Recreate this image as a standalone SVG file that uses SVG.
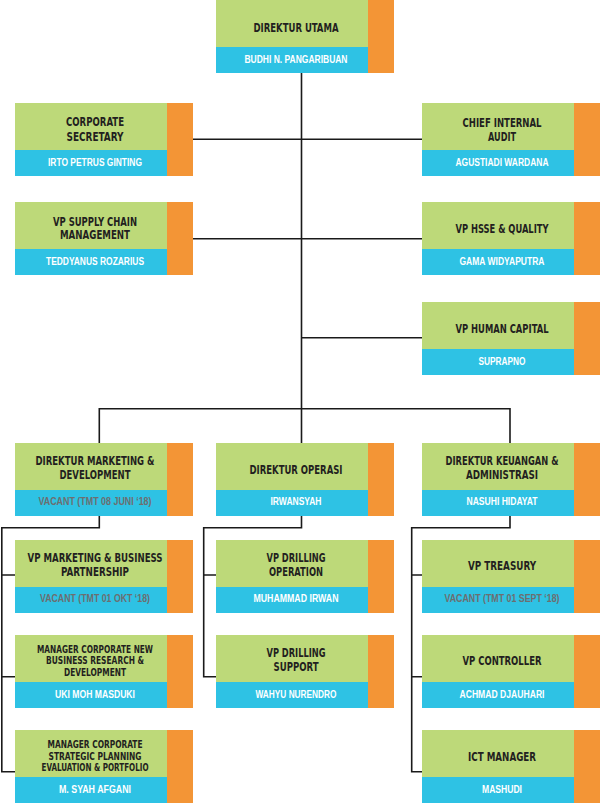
<svg xmlns="http://www.w3.org/2000/svg" width="600" height="804" viewBox="0 0 600 804">
<style>
.g{fill:#bdd979}
.b{fill:#2ec2e4}
.o{fill:#f39536}
.t{font-family:"Liberation Sans Narrow","DejaVu Sans Condensed","Liberation Sans",sans-serif;font-weight:bold;font-size:13px;fill:#231f20;text-anchor:middle}
.m{font-size:12px}
.s{font-size:10.5px}
.n{font-family:"Liberation Sans","DejaVu Sans",sans-serif;font-weight:bold;font-size:10px;fill:#ffffff;text-anchor:middle}
.v{fill:#6d6e70}
.c{fill:none;stroke:#1a1a1a;stroke-width:1.6}
</style>
<defs>
<g id="box">
<rect class="g" x="0" y="0" width="152" height="47"/>
<rect class="b" x="0" y="47" width="152" height="26"/>
<rect class="o" x="152" y="0" width="26" height="73"/>
</g>
</defs>
<g id="connectors">
<path class="c" d="M301.5,73 V443"/>
<path class="c" d="M193,139.3 H422"/>
<path class="c" d="M193,238.8 H422"/>
<path class="c" d="M301.5,337.8 H422"/>
<path class="c" d="M99.3,443 V408.8 H510 V443"/>
<path class="c" d="M99.3,516 V527.7 H1.8 V771.7 H15 M1.8,575 H15 M1.8,676.7 H15"/>
<path class="c" d="M301.5,516 V527.7 H203.7 V676.7 H216 M203.7,575 H216"/>
<path class="c" d="M510,516 V527.7 H411.7 V771.7 H422 M411.7,575 H422 M411.7,676.7 H422"/>
</g>
<g id="direktur-utama" transform="translate(216,0)">
<use href="#box"/>
<text class="t" x="80" y="31.5" textLength="85" lengthAdjust="spacingAndGlyphs">DIREKTUR UTAMA</text>
<text class="n" x="80" y="63.3" textLength="103" lengthAdjust="spacingAndGlyphs">BUDHI N. PANGARIBUAN</text>
</g>
<g id="corporate-secretary" transform="translate(15,103)">
<use href="#box"/>
<text class="t" x="80" y="23" textLength="58" lengthAdjust="spacingAndGlyphs">CORPORATE</text>
<text class="t" x="80" y="37.5" textLength="57" lengthAdjust="spacingAndGlyphs">SECRETARY</text>
<text class="n" x="80" y="63" textLength="94" lengthAdjust="spacingAndGlyphs">IRTO PETRUS GINTING</text>
</g>
<g id="chief-internal-audit" transform="translate(422,103)">
<use href="#box"/>
<text class="t" x="80" y="23.5" textLength="79" lengthAdjust="spacingAndGlyphs">CHIEF INTERNAL</text>
<text class="t" x="80" y="37.5" textLength="28" lengthAdjust="spacingAndGlyphs">AUDIT</text>
<text class="n" x="80" y="63" textLength="93" lengthAdjust="spacingAndGlyphs">AGUSTIADI WARDANA</text>
</g>
<g id="vp-supply-chain" transform="translate(15,202)">
<use href="#box"/>
<text class="t" x="80" y="23.7" textLength="84" lengthAdjust="spacingAndGlyphs">VP SUPPLY CHAIN</text>
<text class="t" x="80" y="37.3" textLength="70" lengthAdjust="spacingAndGlyphs">MANAGEMENT</text>
<text class="n" x="80" y="63" textLength="98" lengthAdjust="spacingAndGlyphs">TEDDYANUS ROZARIUS</text>
</g>
<g id="vp-hsse" transform="translate(422,202)">
<use href="#box"/>
<text class="t" x="80" y="31.3" textLength="93" lengthAdjust="spacingAndGlyphs">VP HSSE &amp; QUALITY</text>
<text class="n" x="80" y="63" textLength="85" lengthAdjust="spacingAndGlyphs">GAMA WIDYAPUTRA</text>
</g>
<g id="vp-human-capital" transform="translate(422,302)">
<use href="#box"/>
<text class="t" x="80" y="31.3" textLength="93" lengthAdjust="spacingAndGlyphs">VP HUMAN CAPITAL</text>
<text class="n" x="80" y="63" textLength="47" lengthAdjust="spacingAndGlyphs">SUPRAPNO</text>
</g>
<g id="direktur-marketing" transform="translate(15,443)">
<use href="#box"/>
<text class="t m" x="80" y="22" textLength="119" lengthAdjust="spacingAndGlyphs">DIREKTUR MARKETING &amp;</text>
<text class="t" x="80" y="36" textLength="71" lengthAdjust="spacingAndGlyphs">DEVELOPMENT</text>
<text class="n v" x="80" y="62" textLength="113" lengthAdjust="spacingAndGlyphs">VACANT (TMT 08 JUNI ‘18)</text>
</g>
<g id="direktur-operasi" transform="translate(216,443)">
<use href="#box"/>
<text class="t" x="80" y="31" textLength="93" lengthAdjust="spacingAndGlyphs">DIREKTUR OPERASI</text>
<text class="n" x="80" y="62.3" textLength="51" lengthAdjust="spacingAndGlyphs">IRWANSYAH</text>
</g>
<g id="direktur-keuangan" transform="translate(422,443)">
<use href="#box"/>
<text class="t m" x="80" y="22" textLength="113" lengthAdjust="spacingAndGlyphs">DIREKTUR KEUANGAN &amp;</text>
<text class="t" x="80" y="36" textLength="72" lengthAdjust="spacingAndGlyphs">ADMINISTRASI</text>
<text class="n" x="80" y="62" textLength="71" lengthAdjust="spacingAndGlyphs">NASUHI HIDAYAT</text>
</g>
<g id="vp-marketing-business" transform="translate(15,540)">
<use href="#box"/>
<text class="t m" x="80" y="22.3" textLength="135" lengthAdjust="spacingAndGlyphs">VP MARKETING &amp; BUSINESS</text>
<text class="t" x="80" y="35.7" textLength="68" lengthAdjust="spacingAndGlyphs">PARTNERSHIP</text>
<text class="n v" x="80" y="62.3" textLength="110" lengthAdjust="spacingAndGlyphs">VACANT (TMT 01 OKT ‘18)</text>
</g>
<g id="vp-drilling-operation" transform="translate(216,540)">
<use href="#box"/>
<text class="t" x="80" y="22.3" textLength="59" lengthAdjust="spacingAndGlyphs">VP DRILLING</text>
<text class="t" x="80" y="35.7" textLength="54" lengthAdjust="spacingAndGlyphs">OPERATION</text>
<text class="n" x="80" y="62.3" textLength="85" lengthAdjust="spacingAndGlyphs">MUHAMMAD IRWAN</text>
</g>
<g id="vp-treasury" transform="translate(422,540)">
<use href="#box"/>
<text class="t" x="80" y="30" textLength="68" lengthAdjust="spacingAndGlyphs">VP TREASURY</text>
<text class="n v" x="80" y="62.3" textLength="115" lengthAdjust="spacingAndGlyphs">VACANT (TMT 01 SEPT ‘18)</text>
</g>
<g id="manager-corporate-new-business" transform="translate(15,635)">
<use href="#box"/>
<text class="t s" x="80" y="17.7" textLength="116" lengthAdjust="spacingAndGlyphs">MANAGER CORPORATE NEW</text>
<text class="t s" x="80" y="29.3" textLength="98" lengthAdjust="spacingAndGlyphs">BUSINESS RESEARCH &amp;</text>
<text class="t s" x="80" y="40.7" textLength="62" lengthAdjust="spacingAndGlyphs">DEVELOPMENT</text>
<text class="n" x="80" y="63.3" textLength="80" lengthAdjust="spacingAndGlyphs">UKI MOH MASDUKI</text>
</g>
<g id="vp-drilling-support" transform="translate(216,635)">
<use href="#box"/>
<text class="t" x="80" y="22.3" textLength="59" lengthAdjust="spacingAndGlyphs">VP DRILLING</text>
<text class="t" x="80" y="35.7" textLength="45" lengthAdjust="spacingAndGlyphs">SUPPORT</text>
<text class="n" x="80" y="62.7" textLength="81" lengthAdjust="spacingAndGlyphs">WAHYU NURENDRO</text>
</g>
<g id="vp-controller" transform="translate(422,635)">
<use href="#box"/>
<text class="t" x="80" y="30" textLength="79" lengthAdjust="spacingAndGlyphs">VP CONTROLLER</text>
<text class="n" x="80" y="62.7" textLength="85" lengthAdjust="spacingAndGlyphs">ACHMAD DJAUHARI</text>
</g>
<g id="manager-corporate-strategic" transform="translate(15,730)">
<use href="#box"/>
<text class="t s" x="80" y="18.3" textLength="95" lengthAdjust="spacingAndGlyphs">MANAGER CORPORATE</text>
<text class="t s" x="80" y="29.5" textLength="93" lengthAdjust="spacingAndGlyphs">STRATEGIC PLANNING</text>
<text class="t s" x="80" y="40.7" textLength="107" lengthAdjust="spacingAndGlyphs">EVALUATION &amp; PORTFOLIO</text>
<text class="n" x="80" y="63.3" textLength="72" lengthAdjust="spacingAndGlyphs">M. SYAH AFGANI</text>
</g>
<g id="ict-manager" transform="translate(422,730)">
<use href="#box"/>
<text class="t" x="80" y="30.7" textLength="68" lengthAdjust="spacingAndGlyphs">ICT MANAGER</text>
<text class="n" x="80" y="62.7" textLength="40" lengthAdjust="spacingAndGlyphs">MASHUDI</text>
</g>
</svg>
